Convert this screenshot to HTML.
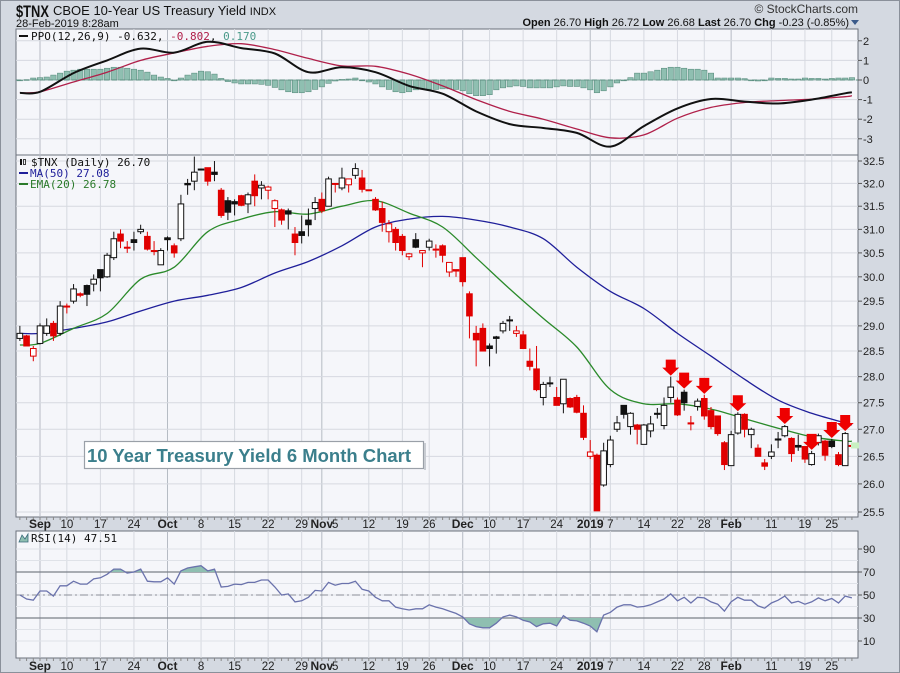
<!DOCTYPE html>
<html><head><meta charset="utf-8"><style>
html,body{margin:0;padding:0;background:#d4d9e1;}
svg{display:block;font-family:"Liberation Sans",sans-serif;}
</style></head><body>
<svg id="c" width="900" height="673" viewBox="0 0 900 673" xmlns="http://www.w3.org/2000/svg">
<rect x="0.5" y="0.5" width="899" height="672" fill="#d4d9e1" stroke="#8a909a"/>
<g>
<text x="16" y="17" font-size="17" font-weight="bold" fill="#111" textLength="33" lengthAdjust="spacingAndGlyphs">$TNX</text>
<text x="53" y="15" font-size="13" fill="#111">CBOE 10-Year US Treasury Yield <tspan font-size="11">INDX</tspan></text>
<text x="16" y="27" font-size="11" fill="#111">28-Feb-2019 8:28am</text>
<text x="858" y="13" font-size="12" fill="#333" text-anchor="end">© StockCharts.com</text>
<text x="849" y="26" font-size="11" fill="#111" text-anchor="end"><tspan font-weight="bold">Open</tspan> 26.70  <tspan font-weight="bold">High</tspan> 26.72  <tspan font-weight="bold">Low</tspan> 26.68  <tspan font-weight="bold">Last</tspan> 26.70  <tspan font-weight="bold">Chg</tspan> -0.23 (-0.85%)</text>
<path d="M851 20 L859 20 L855 25 Z" fill="#3b5a8a"/>
</g>
<g id="gPanels"></g>
</svg>
<script>
// ---------- DATA ----------
const firstIndex = -3;
const opens = [28.75,28.8,28.4,28.65,28.85,29.05,28.85,29.4,29.5,29.65,29.82,29.85,30.15,30.0,30.4,30.9,30.62,30.78,30.95,30.85,30.55,30.25,30.82,30.65,30.8,32.0,32.05,32.32,32.35,32.25,31.85,31.62,31.6,31.73,31.55,32.05,31.9,31.85,31.45,31.42,31.4,30.9,30.95,31.2,31.45,31.65,31.5,32.0,31.9,31.97,32.18,32.12,31.86,31.65,31.45,30.95,31.0,30.85,30.42,30.78,30.5,30.62,30.58,30.65,30.1,30.15,30.4,29.65,28.85,28.95,28.6,28.78,28.9,29.12,28.85,28.82,28.3,28.15,27.6,27.88,27.6,27.48,27.58,27.6,27.3,26.5,26.52,25.98,26.35,27.0,27.45,27.05,27.08,26.72,26.97,27.3,27.07,27.6,27.55,27.7,27.12,27.43,27.58,27.35,27.25,26.75,26.33,26.93,27.28,26.9,26.65,26.38,26.5,26.82,26.88,26.83,26.7,26.68,26.35,26.75,26.78,26.78,26.53,26.33,26.7];
const highs = [29.0,28.82,28.6,29.05,29.15,29.1,29.5,29.45,29.85,29.68,29.84,30.05,30.15,30.5,30.95,31.0,30.75,30.95,31.1,30.95,30.75,30.6,30.85,30.7,31.75,32.1,32.6,32.33,32.35,32.5,31.9,31.7,31.65,31.75,31.8,32.2,32.05,31.95,31.65,31.45,31.45,31.05,31.3,31.45,31.7,31.8,32.15,32.0,32.35,32.1,32.45,32.3,31.86,31.7,31.6,31.2,31.05,30.9,30.5,30.92,30.55,30.8,30.68,30.68,30.3,30.15,30.4,29.7,29.0,29.05,28.65,28.8,29.1,29.2,29.0,28.9,28.55,28.6,27.9,28.0,27.8,27.95,27.6,27.65,27.45,26.8,26.55,26.75,26.88,27.25,27.45,27.32,27.1,27.1,27.25,27.4,27.6,28.0,27.6,27.75,27.25,27.58,27.65,27.42,27.25,26.78,26.97,27.32,27.3,27.03,26.72,26.45,26.72,26.95,27.08,26.85,26.9,26.68,26.6,26.92,26.8,26.82,26.58,26.95,26.72];
const lows = [28.7,28.6,28.3,28.63,28.8,28.7,28.8,29.25,29.45,29.58,29.4,29.7,29.7,29.98,30.35,30.6,30.5,30.55,30.9,30.55,30.45,30.25,30.55,30.4,30.75,31.75,31.85,32.3,31.95,32.05,31.25,31.2,31.3,31.5,31.35,31.5,31.65,31.65,31.05,31.1,31.0,30.45,30.7,30.85,31.2,31.35,31.5,31.8,31.85,31.8,32.1,31.8,31.85,31.4,30.95,30.72,30.55,30.45,30.35,30.6,30.2,30.55,30.4,30.3,30.0,30.0,29.8,28.75,28.2,28.5,28.2,28.45,28.85,28.9,28.78,28.55,28.12,27.72,27.45,27.8,27.45,27.3,27.4,27.3,26.8,26.45,25.52,25.95,26.3,26.95,27.2,26.9,26.72,26.72,26.85,27.2,27.0,27.5,27.25,27.35,26.98,27.35,27.18,27.0,26.88,26.25,26.33,26.9,26.85,26.65,26.5,26.25,26.45,26.65,26.85,26.4,26.6,26.38,26.33,26.7,26.42,26.65,26.32,26.33,26.68];
const closes = [28.85,28.6,28.55,29.0,29.0,28.8,29.4,29.38,29.75,29.62,29.64,29.95,29.98,30.45,30.8,30.75,30.6,30.72,31.0,30.58,30.53,30.55,30.78,30.5,31.55,31.97,32.25,32.3,32.05,32.2,31.3,31.37,31.55,31.52,31.75,31.73,31.96,31.92,31.62,31.2,31.33,30.72,30.87,31.1,31.58,31.4,32.1,31.98,32.12,32.1,32.33,31.87,31.85,31.42,31.15,31.12,30.72,30.55,30.48,30.62,30.55,30.75,30.56,30.45,30.3,30.12,29.9,29.2,28.72,28.5,28.55,28.75,29.05,29.1,28.9,28.55,28.2,27.75,27.85,27.87,27.45,27.95,27.42,27.32,26.85,26.58,25.52,26.6,26.8,27.12,27.28,27.3,27.0,27.08,27.1,27.28,27.45,27.8,27.27,27.5,27.1,27.53,27.25,27.05,26.92,26.35,26.9,27.28,27.0,27.0,26.5,26.32,26.58,26.8,27.05,26.55,26.67,26.45,26.55,26.88,26.52,26.68,26.35,26.92,26.70];
const arrowIdx = [94,96,99,104,111,115,118,120];
// weekly-sampled indicator readings (index, value)
const lineIdx = [-3,0,5,10,15,20,25,30,35,40,45,50,55,60,65,70,75,80,85,90,95,100,105,110,115,120,121];
const ma50 = [28.85,28.85,28.95,29.08,29.3,29.5,29.62,29.78,30.08,30.32,30.65,31.05,31.22,31.28,31.2,31.05,30.8,30.2,29.7,29.35,28.85,28.4,27.95,27.55,27.3,27.12,27.08];
const ema20 = [28.62,28.65,28.95,29.25,29.95,30.2,30.95,31.22,31.38,31.33,31.5,31.62,31.35,31.05,30.4,29.75,29.15,28.58,27.75,27.48,27.48,27.38,27.2,27.02,26.86,26.78,26.78];
const ppoLine = [-0.66,-0.6,0.35,1.0,1.6,1.4,1.95,1.63,1.35,0.4,0.65,0.4,-0.3,-0.7,-1.6,-2.25,-2.45,-2.7,-3.4,-2.35,-1.45,-0.97,-1.1,-1.2,-1.0,-0.68,-0.63];
const ppoSignal = [-0.66,-0.6,-0.1,0.4,1.0,1.38,1.72,1.85,1.55,1.1,0.72,0.7,0.3,-0.3,-1.0,-1.6,-2.0,-2.5,-2.95,-2.8,-1.95,-1.4,-1.15,-1.05,-0.98,-0.85,-0.8];
const ppoHist = [0.0,0.02,0.1,0.12,0.15,0.25,0.35,0.45,0.5,0.55,0.55,0.55,0.55,0.6,0.65,0.65,0.6,0.55,0.5,0.4,0.25,0.15,0.08,0.0,0.1,0.25,0.35,0.45,0.42,0.3,0.08,-0.08,-0.15,-0.2,-0.2,-0.2,-0.22,-0.27,-0.38,-0.5,-0.6,-0.65,-0.65,-0.6,-0.48,-0.35,-0.17,-0.05,0.03,0.05,0.1,0.0,-0.1,-0.2,-0.35,-0.48,-0.6,-0.65,-0.6,-0.5,-0.47,-0.47,-0.48,-0.45,-0.45,-0.48,-0.55,-0.7,-0.8,-0.8,-0.75,-0.5,-0.4,-0.35,-0.3,-0.33,-0.4,-0.4,-0.4,-0.4,-0.35,-0.3,-0.33,-0.33,-0.4,-0.5,-0.65,-0.55,-0.35,-0.15,0.0,0.12,0.35,0.35,0.42,0.5,0.6,0.65,0.65,0.6,0.55,0.55,0.5,0.35,0.1,0.1,0.1,0.1,0.07,0.0,-0.05,0.0,0.1,0.08,0.08,0.05,0.05,0.1,0.08,0.08,0.05,0.08,0.1,0.1,0.12];
const rsi = [50,46.5,45.5,53.5,53.5,49,58,58,62,59.5,59.5,64,65,68,72.5,72.5,69,70,72.5,62,61.5,61.5,65,59.5,71,73.5,74.5,75.5,71,72.5,57,57.5,59.5,59,61,61,63,63,57,50,51,44,45,48,54,53.5,61,58.5,60,60,62,55,53.5,48,45,45,39.5,38,37,38,38,41.5,39.5,38,36,34,31,25,22.5,21.5,21.5,25.5,31,32.5,31,28,26.5,22.5,25,25.5,23,32,28,27.5,25.5,23,18,32.5,35,39.5,41.5,41.5,39.5,40,41.5,44,46.5,51,45,48,43,48,47.5,44,42,36,44,48,45.5,45.5,40.5,38.5,43,45.5,49,43,44.5,42,44,47.5,45,47,43,49,47.5];
const priceTicks = [32.5,32.0,31.5,31.0,30.5,30.0,29.5,29.0,28.5,28.0,27.5,27.0,26.5,26.0,25.5];
const ppoTicks = [2,1,0,-1,-2,-3];
const rsiTicks = [90,70,50,30,10];
const dateLabels = ["Sep","10","17","24","Oct","8","15","22","29","Nov","5","12","19","26","Dec","10","17","24","2019","7","14","22","28","Feb","11","19","25"];
const dateIdx = [0,4,9,14,19,24,29,34,39,42,44,49,54,58,63,67,72,77,82,85,90,95,99,103,109,114,118];
const monthLabels = ["Sep","Oct","Nov","Dec","2019","Feb"];

// ---------- SCALES ----------
const L=16, R=858;
const P={ppo:{t:29,b:155},price:{t:155,b:517},rsi:{t:531,b:658}};
const xS = i => 40 + 6.71*i;
const yP = v => 161 + 1447*(Math.log(32.5) - Math.log(v));
const yPPO = v => 80 - 19.6*v;
const yRSI = v => 595 - (v-50)*1.15;

const NS="http://www.w3.org/2000/svg";
const root=document.getElementById('gPanels');
function mk(tag, attrs, parent){const e=document.createElementNS(NS,tag);for(const k in attrs)e.setAttribute(k,attrs[k]);(parent||root).appendChild(e);return e;}

[['ppo','ppo-panel'],['price','price-panel'],['rsi','rsi-panel']].forEach(([k,n])=>{
  const r=mk('rect',{x:L,y:P[k].t,width:R-L,height:P[k].b-P[k].t,fill:'#f5f6fa',stroke:'#6b717c','stroke-width':1});
  
  
});
dateIdx.forEach((di,j)=>{
  if(dateLabels[j]==="5") return;
  const month = monthLabels.includes(dateLabels[j]);
  ['ppo','price','rsi'].forEach(k=>{
    const l=mk('line',{x1:xS(di),x2:xS(di),y1:P[k].t,y2:P[k].b,stroke:month?'#b6bbc4':'#d6d9e0','stroke-width':1});
    
    
  });
});
function axisLabels(ticks, yf, fmt, nm){
  ticks.forEach(t=>{
    const y=yf(t);
    const g=mk('line',{x1:L,x2:R,y1:y,y2:y,stroke:'#d6d9e0','stroke-width':1});
    
    
    mk('line',{x1:R,x2:R+4,y1:y,y2:y,stroke:'#555'});
    const tx=mk('text',{x:R+5,y:y+4,'font-size':11,fill:'#222'});
    tx.textContent=fmt(t);
    
    
  });
}
axisLabels(priceTicks,yP,t=>t.toFixed(1),'price-axis');
axisLabels(ppoTicks,yPPO,t=>String(t),'ppo-axis');
for(let v=10;v<=90;v+=10){const l=mk('line',{x1:L,x2:R,y1:yRSI(v),y2:yRSI(v),stroke:'#dfe2e8'});}
rsiTicks.forEach(t=>{const y=yRSI(t);mk('line',{x1:R,x2:R+4,y1:y,y2:y,stroke:'#555'});const tx=mk('text',{x:R+5,y:y+4,'font-size':11,fill:'#222'});tx.textContent=String(t);});
[70,30].forEach(v=>{const l=mk('line',{x1:L,x2:R,y1:yRSI(v),y2:yRSI(v),stroke:'#7a7f88','stroke-width':1.3});});
{const l=mk('line',{x1:L,x2:R,y1:yRSI(50),y2:yRSI(50),stroke:'#8a8f98','stroke-dasharray':'8,3,2,3'});}

[[517,528,'top-date-axis'],[658,670,'bottom-date-axis']].forEach(([y0,yb,nm])=>{
  for(let i=firstIndex;i<firstIndex+closes.length;i++){mk('line',{x1:xS(i),x2:xS(i),y1:y0,y2:y0+3,stroke:'#888'});}
  dateLabels.forEach((lab,j)=>{
    const m=monthLabels.includes(lab);
    const tx=mk('text',{x:xS(dateIdx[j]),y:yb,'font-size':m?12:11.5,'font-weight':m?'bold':'normal','text-anchor':'middle',fill:'#222'});
    tx.textContent=lab;
    
    
  });
});

// ---------- PPO ----------
const gH=mk('g',{});


ppoHist.forEach((v,k)=>{
  const i=k+firstIndex, y0=yPPO(0), y1=yPPO(v);
  const b=mk('rect',{x:xS(i)-2.7,y:Math.min(y0,y1),width:5.4,height:Math.max(0.8,Math.abs(y1-y0)),fill:'#8fbfb1',stroke:'#5d8f81','stroke-width':0.6},gH);
  
  
});
{const z=mk('line',{x1:L,x2:R,y1:yPPO(0),y2:yPPO(0),stroke:'#5d8f81','stroke-dasharray':'5,3'});}
function poly(arr, yf, color, w, nm){
  const pts=arr.map((v,k)=>[xS(lineIdx[k]),yf(v)]);
  let d='M'+pts[0][0].toFixed(1)+' '+pts[0][1].toFixed(1);
  for(let k=0;k<pts.length-1;k++){
    const p0=pts[Math.max(0,k-1)],p1=pts[k],p2=pts[k+1],p3=pts[Math.min(pts.length-1,k+2)];
    const c1x=p1[0]+(p2[0]-p0[0])/6,c1y=p1[1]+(p2[1]-p0[1])/6,c2x=p2[0]-(p3[0]-p1[0])/6,c2y=p2[1]-(p3[1]-p1[1])/6;
    d+=` C${c1x.toFixed(1)} ${c1y.toFixed(1)} ${c2x.toFixed(1)} ${c2y.toFixed(1)} ${p2[0].toFixed(1)} ${p2[1].toFixed(1)}`;
  }
  const p=mk('path',{d:d,fill:'none',stroke:color,'stroke-width':w,'stroke-linejoin':'round'});
  
  
}
poly(ppoSignal,yPPO,'#b0204a',1.3,'ppo-signal-line');
poly(ppoLine,yPPO,'#111',2,'ppo-line');

// ---------- PRICE ----------
poly(ma50,yP,'#1f1f9a',1.3,'ma50-line');
poly(ema20,yP,'#2a8a2a',1.3,'ema20-line');
const gC=mk('g',{});


closes.forEach((c,k)=>{
  const i=k+firstIndex;
  const o=opens[k]!==undefined?opens[k]:c;
  const h=highs[k]!==undefined?highs[k]:Math.max(o,c);
  const l=lows[k]!==undefined?lows[k]:Math.min(o,c);
  const prev = k>0?closes[k-1]:c;
  const col = c<prev ? '#e00000' : '#111';
  const hollow = c>=o;
  const x=xS(i);
  const w=mk('line',{x1:x,x2:x,y1:yP(h),y2:yP(l),stroke:col,'stroke-width':1},gC);
  
  
  const yt=yP(Math.max(o,c)), yb=yP(Math.min(o,c));
  const b=mk('rect',{x:x-2.8,y:yt,width:5.6,height:Math.max(1,yb-yt),fill:hollow?'#fff':col,stroke:col,'stroke-width':1},gC);
  
  
});
arrowIdx.forEach(i=>{
  const k=i-firstIndex, x=xS(i), tip=yP(highs[k])-1;
  const a=mk('path',{d:`M${x} ${tip} L${x-8.5} ${tip-8} L${x-5} ${tip-8} L${x-5} ${tip-16} L${x+5} ${tip-16} L${x+5} ${tip-8} L${x+8.5} ${tip-8} Z`,fill:'#ee0000'});
  
  
});
{const lc=closes[closes.length-1];const m=mk('rect',{x:851,y:yP(lc)-3,width:8,height:6,fill:'#c8f0c0'});}

// ---------- RSI ----------
const rPts=rsi.map((v,k)=>[xS(k+firstIndex),yRSI(v)]);
const defs=mk('defs',{});
const c1=mk('clipPath',{id:'above70'},defs);mk('rect',{x:L,y:P.rsi.t,width:R-L,height:yRSI(70)-P.rsi.t},c1);
const c2=mk('clipPath',{id:'below30'},defs);mk('rect',{x:L,y:yRSI(30),width:R-L,height:P.rsi.b-yRSI(30)},c2);
const ptsStr=rPts.map(p=>p[0].toFixed(1)+','+p[1].toFixed(1)).join(' ');
const first=rPts[0][0], last=rPts[rPts.length-1][0];
{const a=mk('polygon',{points:`${first},${yRSI(70)} ${ptsStr} ${last},${yRSI(70)}`,fill:'#8fbfb1','clip-path':'url(#above70)'});}
{const a=mk('polygon',{points:`${first},${yRSI(30)} ${ptsStr} ${last},${yRSI(30)}`,fill:'#8fbfb1','clip-path':'url(#below30)'});}
{const p=mk('polyline',{points:ptsStr,fill:'none',stroke:'#6a72ac','stroke-width':1.3});}
</script>
<script>
(function(){
const NS="http://www.w3.org/2000/svg";const svg=document.getElementById('c');
const g=document.createElementNS(NS,'g');svg.appendChild(g);
g.innerHTML=`
<g><line x1="19" y1="36" x2="28" y2="36" stroke="#111" stroke-width="2"/>
<text x="31" y="40" font-size="11" fill="#111" font-family="DejaVu Sans Mono, Liberation Mono, monospace">PPO(12,26,9) -0.632, <tspan fill="#b0204a">-0.802</tspan>, <tspan fill="#4a9a8a">0.170</tspan></text></g>
<g>
<rect x="20" y="159" width="2" height="6" fill="#111"/><rect x="23.5" y="159.5" width="2" height="5" fill="none" stroke="#111" stroke-width="0.8"/>
<text x="31" y="166" font-size="11" fill="#111" font-family="DejaVu Sans Mono, Liberation Mono, monospace">$TNX (Daily) 26.70</text>
<line x1="19" y1="173" x2="28" y2="173" stroke="#1f1f9a" stroke-width="2"/><text x="30" y="177" font-size="11" fill="#1f1f9a" font-family="DejaVu Sans Mono, Liberation Mono, monospace">MA(50) 27.08</text>
<line x1="19" y1="184" x2="28" y2="184" stroke="#2a7a2a" stroke-width="2"/><text x="30" y="188" font-size="11" fill="#2a7a2a" font-family="DejaVu Sans Mono, Liberation Mono, monospace">EMA(20) 26.78</text></g>
<g><path d="M19 542 L22 535 L25 539 L28 534 L28 542 Z" fill="#8fbfb1" stroke="#3a6a7a" stroke-width="0.8"/>
<text x="31" y="542" font-size="11" fill="#111" font-family="DejaVu Sans Mono, Liberation Mono, monospace">RSI(14) 47.51</text></g>
<g><rect x="84.5" y="441.5" width="339" height="27" fill="#fff" stroke="#9aa0a8" stroke-width="1.2"/><rect x="424" y="443" width="2" height="27" fill="#c8ccd2"/>
<text x="87" y="462" font-size="18" font-weight="bold" fill="#3b7f8c" textLength="324" lengthAdjust="spacingAndGlyphs">10 Year Treasury Yield 6 Month Chart</text></g>`;
})();
</script>
</body></html>
